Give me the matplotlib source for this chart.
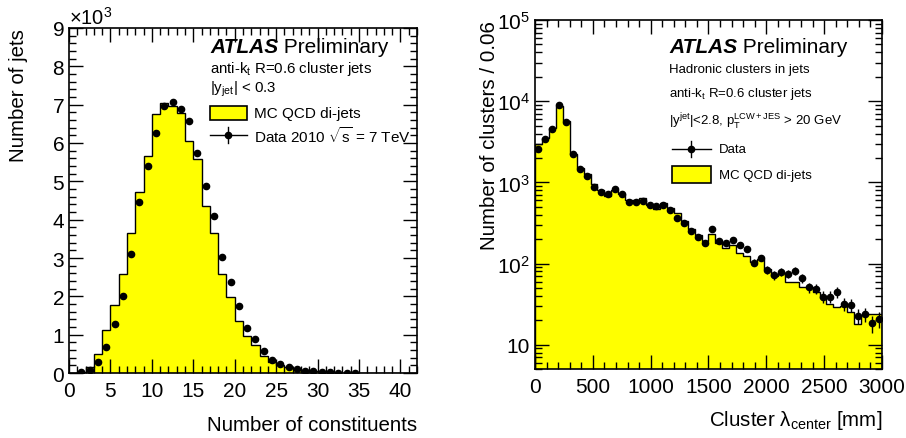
import numpy as np
import matplotlib
matplotlib.use("Agg")
import matplotlib.pyplot as plt
from matplotlib.patches import Rectangle
from matplotlib.lines import Line2D
from matplotlib.ticker import MultipleLocator, FixedLocator, LogLocator, NullFormatter, FuncFormatter

plt.rcParams['font.family'] = ['Liberation Sans', 'DejaVu Sans']
plt.rcParams['mathtext.fontset'] = 'custom'
plt.rcParams['mathtext.rm'] = 'Liberation Sans'
plt.rcParams['mathtext.it'] = 'Liberation Sans:italic'
plt.rcParams['mathtext.bf'] = 'Liberation Sans:bold'

# ---------------- Left panel data (thousands of jets) ----------------
left_edges = np.arange(0, 43, 1)
left_mc = [0.0, 0.02, 0.16, 0.50, 1.13, 1.78, 2.58, 3.65, 4.73, 5.66,
           6.76, 7.05, 6.97, 6.77, 6.04, 5.57, 4.36, 3.64, 2.58, 1.97,
           1.35, 0.96, 0.72, 0.44, 0.30, 0.22, 0.16, 0.11, 0.07, 0.05,
           0.03, 0.02, 0.01, 0.01, 0.005, 0.0, 0.0, 0.0, 0.0, 0.0,
           0.0, 0.0]
left_data_x = [1.5, 2.5, 3.5, 4.5, 5.5, 6.5, 7.5, 8.5, 9.5, 10.5,
               11.5, 12.5, 13.5, 14.5, 15.5, 16.5, 17.5, 18.5, 19.5, 20.5,
               21.5, 22.5, 23.5, 24.5, 25.5, 26.5, 27.5, 28.5, 29.5, 30.5,
               31.5, 32.5, 33.5, 34.5]
left_data_y = [0.03, 0.09, 0.29, 0.67, 1.27, 2.00, 3.11, 4.46, 5.39, 6.27,
               6.96, 7.07, 6.89, 6.57, 5.74, 4.87, 4.09, 3.03, 2.37, 1.75,
               1.17, 0.90, 0.57, 0.35, 0.23, 0.15, 0.10, 0.06, 0.04, 0.03,
               0.02, 0.01, 0.01, 0.01]

# ---------------- Right panel data (clusters per bin) ----------------
right_edges = np.arange(0, 3001, 60)
right_mc = [2930, 3540, 4700, 8690, 5680, 2210, 1510, 1250, 944, 805,
            679, 805, 712, 601, 601, 636, 526, 466, 552, 489,
            424, 335, 269, 223, 190, 230, 181, 157, 168, 136,
            124, 103, 115, 85, 70, 77, 60, 60, 51, 51,
            44, 38, 32, 29, 30, 25, 18, 23, 24, 24]
right_data = [2550, 3380, 4490, 9020, 5470, 2230, 1460, 1210, 885, 768,
              712, 820, 726, 579, 579, 589, 526, 507, 531, 457,
              368, 319, 252, 215, 181, 264, 190, 181, 195, 168,
              153, 102, 117, 83, 72, 79, 74, 81, 66, 51,
              49, 39, 39, 44, 31.6, 31, 22.7, 23.8, 18.3, 20.7]

fig = plt.figure(figsize=(9.06, 4.39), dpi=100)
axL = fig.add_axes([0.0762, 0.148, 0.384, 0.786])
axR = fig.add_axes([0.5905, 0.157, 0.383, 0.795])

YELLOW = '#ffff00'

def style_ticks(ax):
    ax.tick_params(which='both', direction='in', top=True, right=True,
                   width=1.0, labelsize=15, colors='black')
    ax.tick_params(which='major', length=10)
    ax.tick_params(which='minor', length=5)
    for s in ax.spines.values():
        s.set_linewidth(1.2)

# ---------------- Left ----------------
axL.stairs(left_mc, left_edges, fill=True, facecolor=YELLOW, edgecolor='none', baseline=0)
axL.stairs(left_mc, left_edges, fill=False, color='black', linewidth=1.0, baseline=0)
yerrL = np.sqrt(np.array(left_data_y) * 1000) / 1000
axL.errorbar(left_data_x, left_data_y, yerr=yerrL, fmt='o', color='black',
             markersize=4.5, elinewidth=1, capsize=0)
axL.set_xlim(0, 42)
axL.set_ylim(0, 9)
axL.xaxis.set_major_locator(MultipleLocator(5))
axL.xaxis.set_minor_locator(MultipleLocator(1))
axL.yaxis.set_major_locator(MultipleLocator(1))
axL.yaxis.set_minor_locator(MultipleLocator(0.2))
style_ticks(axL)
axL.tick_params(axis='x', pad=6)
axL.set_xlabel('Number of constituents', fontsize=14.8, loc='right')
axL.xaxis.set_label_coords(1.0, -0.122)
axL.set_ylabel('Number of jets', fontsize=14.8, loc='top')
axL.yaxis.set_label_coords(-0.117, 1.0)
axL.text(0.0, 1.0, r'$\times$10$^{3}$', transform=axL.transAxes, fontsize=14.5,
         ha='left', va='bottom')

t1 = axL.text(0.405, 0.945, 'ATLAS', transform=axL.transAxes, fontsize=15,
              fontweight='bold', fontstyle='italic', ha='left', va='center')
axL.annotate(' Preliminary', xy=(1, 0), xycoords=t1, fontsize=15,
             ha='left', va='bottom')
axL.text(0.405, 0.884, r'anti-k$_{\mathrm{t}}$ R=0.6 cluster jets', transform=axL.transAxes,
         fontsize=10.8, ha='left', va='center')
axL.text(0.405, 0.826, r'|y$_{\mathrm{jet}}$| < 0.3', transform=axL.transAxes,
         fontsize=10.8, ha='left', va='center')
axL.add_patch(Rectangle((0.405, 0.733), 0.106, 0.041, transform=axL.transAxes,
                        facecolor=YELLOW, edgecolor='black', linewidth=1.2))
axL.text(0.532, 0.754, 'MC QCD di-jets', transform=axL.transAxes,
         fontsize=11, ha='left', va='center')
axL.add_line(Line2D([0.405, 0.511], [0.690, 0.690], transform=axL.transAxes,
                    color='black', linewidth=1.0))
axL.add_line(Line2D([0.458, 0.458], [0.668, 0.712], transform=axL.transAxes,
                    color='black', linewidth=1.0))
axL.add_line(Line2D([0.458], [0.690], transform=axL.transAxes, marker='o',
                    markersize=4.5, color='black'))
axL.text(0.532, 0.690, r'Data 2010 $\sqrt{\mathrm{s}}$ = 7 TeV', transform=axL.transAxes,
         fontsize=11, ha='left', va='center')

# ---------------- Right ----------------
axR.set_yscale('log')
axR.stairs(right_mc, right_edges, fill=True, facecolor=YELLOW, edgecolor='none', baseline=1)
axR.stairs(right_mc, right_edges, fill=False, color='black', linewidth=1.0, baseline=1)
centers = (right_edges[:-1] + right_edges[1:]) / 2
yerrR = np.sqrt(np.array(right_data))
axR.errorbar(centers, right_data, yerr=yerrR, fmt='o', color='black',
             markersize=4.5, elinewidth=1, capsize=0)
axR.set_xlim(0, 3000)
axR.set_ylim(5, 1e5)
axR.xaxis.set_major_locator(MultipleLocator(500))
axR.xaxis.set_minor_locator(MultipleLocator(100))
axR.yaxis.set_major_locator(FixedLocator([10, 100, 1000, 10000, 100000]))
axR.yaxis.set_minor_locator(LogLocator(base=10, subs=np.arange(2, 10)))
axR.yaxis.set_minor_formatter(NullFormatter())

def logfmt(v, pos):
    e = int(round(np.log10(v)))
    if e == 1:
        return '10'
    return r'10$^{%d}$' % e
axR.yaxis.set_major_formatter(FuncFormatter(logfmt))
style_ticks(axR)
axR.tick_params(axis='x', pad=6)
axR.set_xlabel('Cluster λ$_{\\mathrm{center}}$ [mm]', fontsize=14.8, loc='right')
axR.xaxis.set_label_coords(1.0, -0.112)
axR.set_ylabel('Number of clusters / 0.06', fontsize=14.8, loc='top')
axR.yaxis.set_label_coords(-0.105, 1.0)

t2 = axR.text(0.386, 0.923, 'ATLAS', transform=axR.transAxes, fontsize=15,
              fontweight='bold', fontstyle='italic', ha='left', va='center')
axR.annotate(' Preliminary', xy=(1, 0), xycoords=t2, fontsize=15,
             ha='left', va='bottom')
axR.text(0.386, 0.860, 'Hadronic clusters in jets', transform=axR.transAxes,
         fontsize=9.5, ha='left', va='center')
axR.text(0.386, 0.791, r'anti-k$_{\mathrm{t}}$ R=0.6 cluster jets', transform=axR.transAxes,
         fontsize=9.5, ha='left', va='center')
axR.text(0.386, 0.711, r'|y$^{\mathrm{jet}}$|<2.8, p$_{\mathrm{T}}^{\mathrm{LCW+JES}}$ > 20 GeV',
         transform=axR.transAxes, fontsize=9.5, ha='left', va='center')
axR.add_line(Line2D([0.395, 0.507], [0.630, 0.630], transform=axR.transAxes,
                    color='black', linewidth=1.0))
axR.add_line(Line2D([0.451, 0.451], [0.607, 0.653], transform=axR.transAxes,
                    color='black', linewidth=1.0))
axR.add_line(Line2D([0.451], [0.630], transform=axR.transAxes, marker='o',
                    markersize=4.5, color='black'))
axR.text(0.530, 0.630, 'Data', transform=axR.transAxes,
         fontsize=9.5, ha='left', va='center')
axR.add_patch(Rectangle((0.395, 0.533), 0.112, 0.049, transform=axR.transAxes,
                        facecolor=YELLOW, edgecolor='black', linewidth=1.2))
axR.text(0.530, 0.557, 'MC QCD di-jets', transform=axR.transAxes,
         fontsize=9.5, ha='left', va='center')

fig.savefig('out.png', dpi=100)
